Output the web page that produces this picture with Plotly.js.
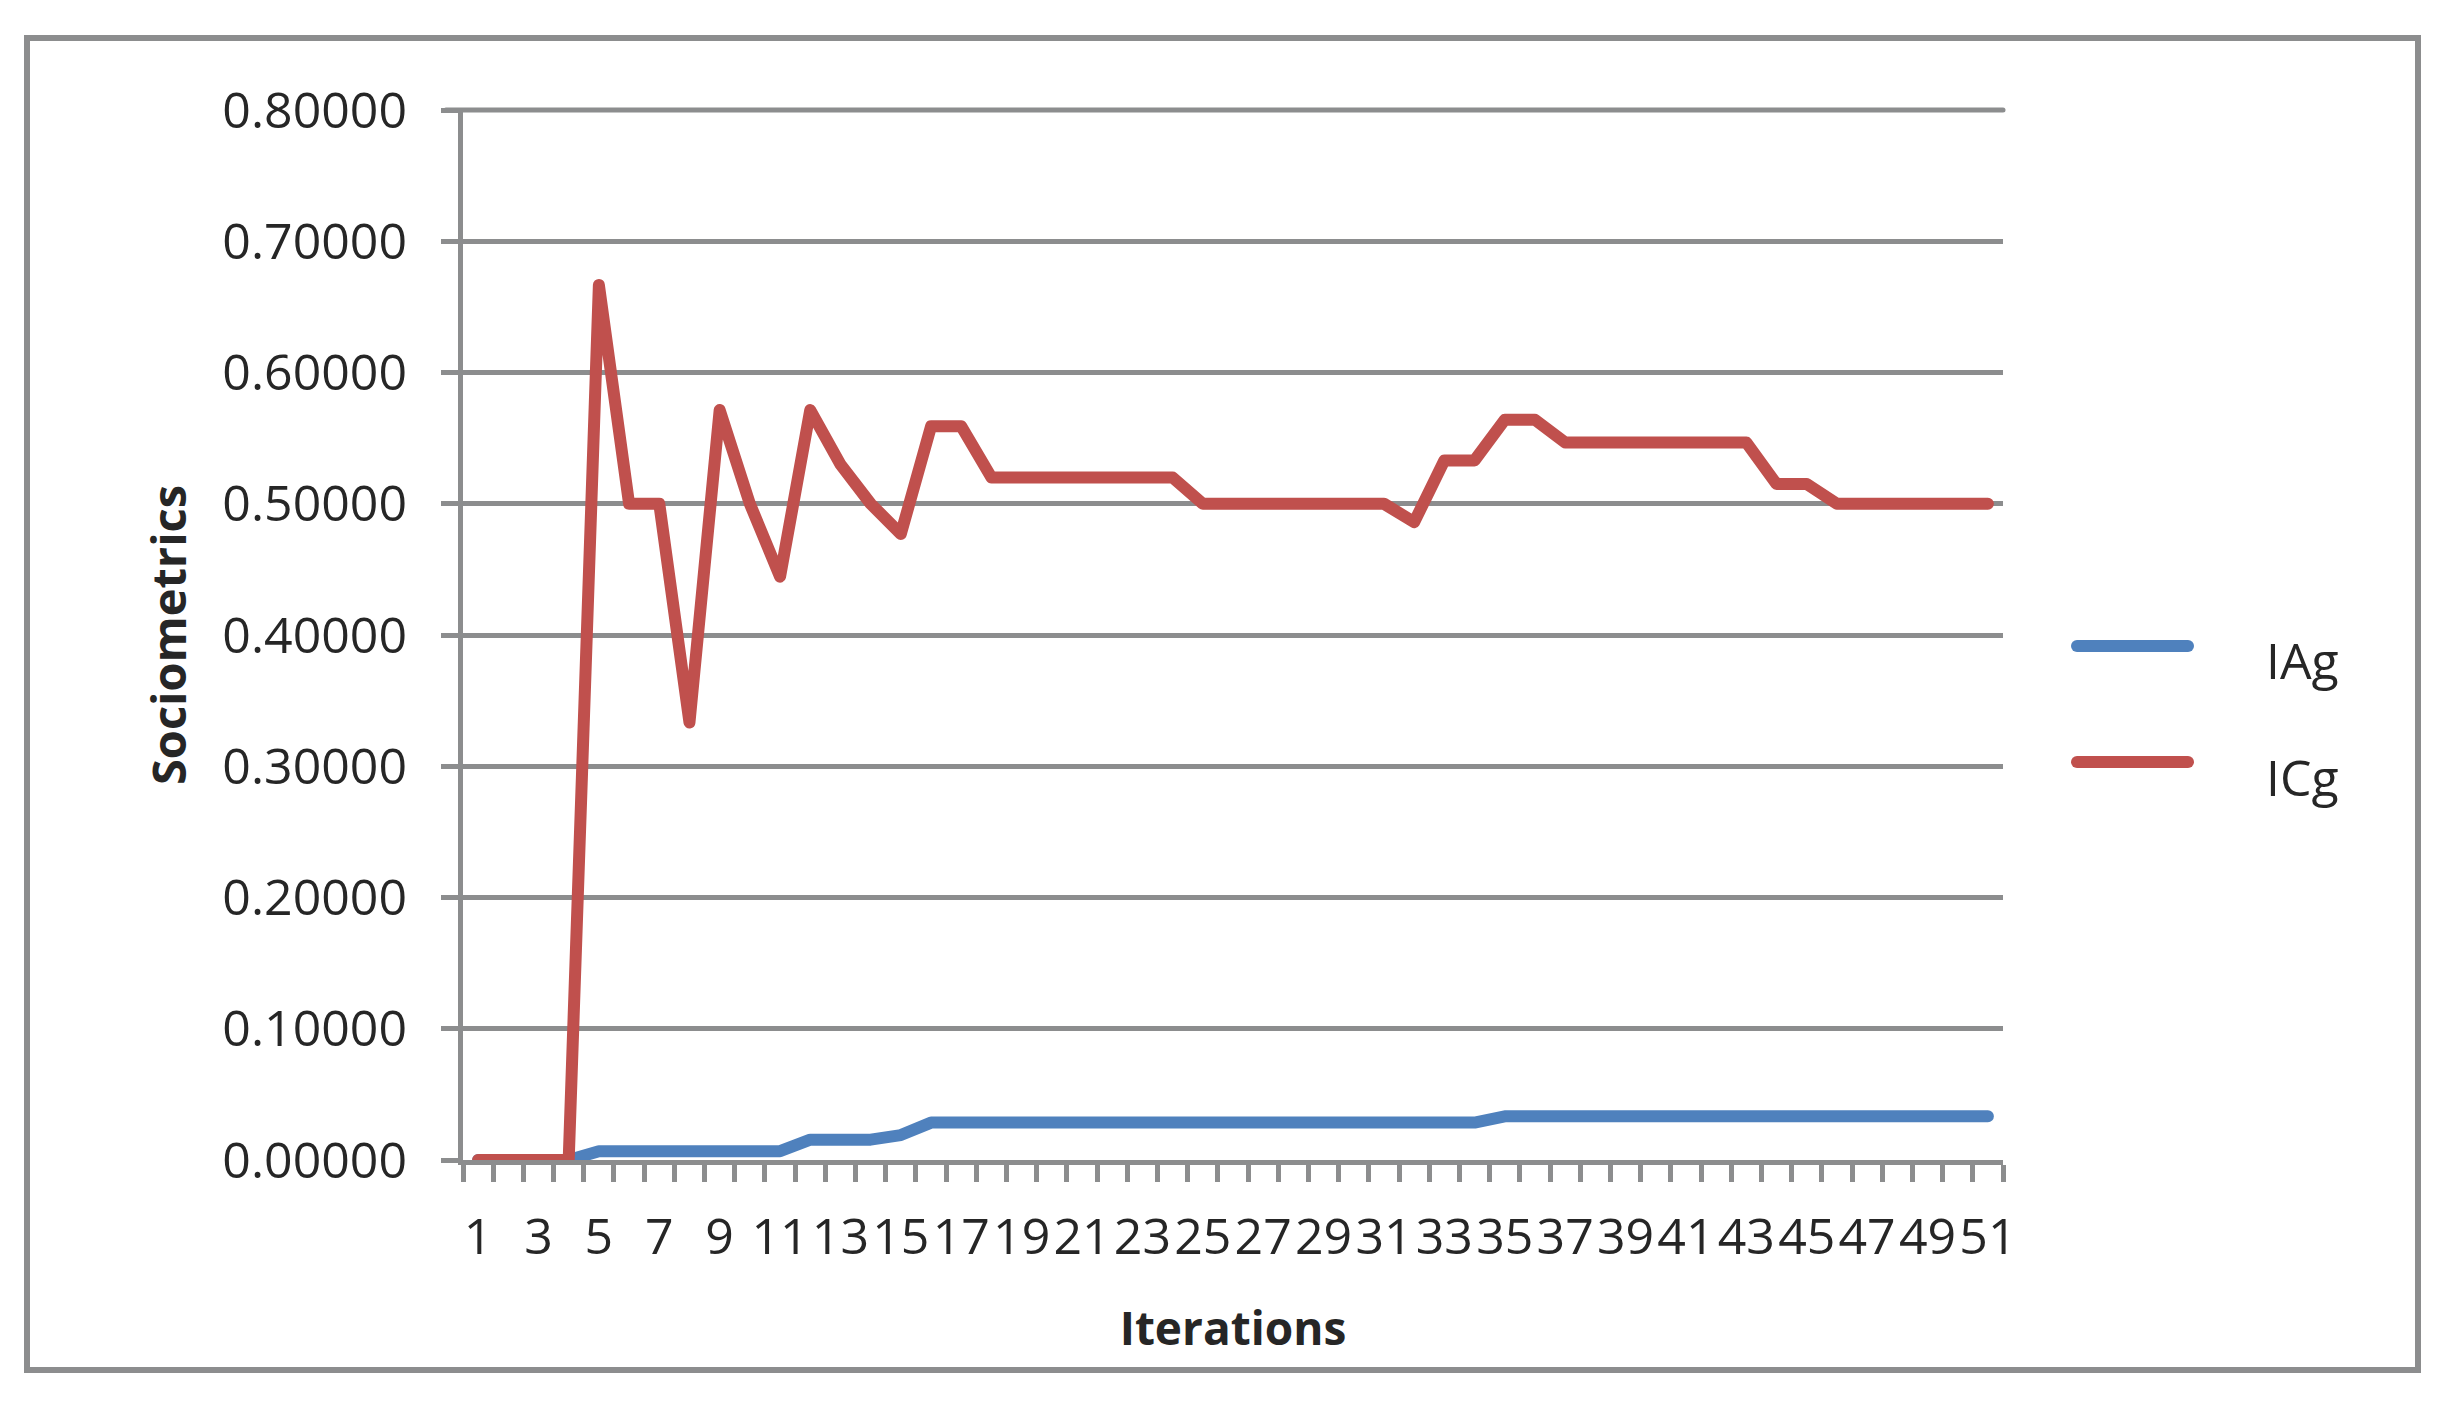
<!DOCTYPE html>
<html>
<head>
<meta charset="utf-8">
<script src="https://cdn.plot.ly/plotly-3.0.1.min.js"></script>
<style>html,body{margin:0;padding:0;background:#ffffff;}</style>
</head>
<body>
<div id="chart" style="width:2455px;height:1415px;"></div>
<script>
// ---------------- data ----------------
const seriesNames = ["IAg", "ICg"];
const iterations = [1,2,3,4,5,6,7,8,9,10,11,12,13,14,15,16,17,18,19,20,21,22,23,24,25,26,27,28,29,30,31,32,33,34,35,36,37,38,39,40,41,42,43,44,45,46,47,48,49,50,51];
const iag = [0,0,0,0,0.0067,0.0067,0.0067,0.0067,0.0067,0.0067,0.0067,0.0155,0.0155,0.0155,0.019,
  0.0285,0.0285,0.0285,0.0285,0.0285,0.0285,0.0285,0.0285,0.0285,0.0285,0.0285,0.0285,0.0285,0.0285,0.0285,0.0285,0.0285,0.0285,0.0285,
  0.0333,0.0333,0.0333,0.0333,0.0333,0.0333,0.0333,0.0333,0.0333,0.0333,0.0333,0.0333,0.0333,0.0333,0.0333,0.0333,0.0333];
const icg = [0,0,0,0,0.6667,0.5,0.5,0.3333,0.5714,0.5,0.4444,0.5714,0.53,0.5,0.477,0.559,0.559,
  0.52,0.52,0.52,0.52,0.52,0.52,0.52,
  0.5,0.5,0.5,0.5,0.5,0.5,0.5,
  0.486,0.533,0.533,0.564,0.564,
  0.5467,0.5467,0.5467,0.5467,0.5467,0.5467,0.5467,
  0.515,0.515,
  0.5,0.5,0.5,0.5,0.5,0.5];
const xTickVals = [1,3,5,7,9,11,13,15,17,19,21,23,25,27,29,31,33,35,37,39,41,43,45,47,49,51];
const xTickText = ["1","3","5","7","9","11","13","15","17","19","21","23","25","27","29","31","33","35","37","39","41","43","45","47","49","51"];
const yTickVals = [0,0.1,0.2,0.3,0.4,0.5,0.6,0.7,0.8];
const xTitle = "Iterations";
const yTitle = "Sociometrics";

// ---------------- layout helpers ----------------
const W = 2455, H = 1415;
const L = 463, R = 2003, T = 110, B = 1160;
const px = x => (x - L) / (R - L);
const py = y => (B - y) / (B - T);
const GRAY = '#8c8d8e';
const TXT = '#262626';
const FONT = '"Open Sans", "DejaVu Sans", sans-serif';
const colors = ['#4F81BD', '#C0504D'];

const traces = [
  {x: iterations, y: iag, name: seriesNames[0], type: 'scatter', mode: 'lines',
   line: {color: colors[0], width: 12}, xaxis: 'x', yaxis: 'y', showlegend: false, hoverinfo: 'skip'},
  {x: iterations, y: icg, name: seriesNames[1], type: 'scatter', mode: 'lines',
   line: {color: colors[1], width: 12}, xaxis: 'x2', yaxis: 'y', showlegend: false, hoverinfo: 'skip'}
];

const legendY = [646, 762];
const legendTextY = [660, 777];
const shapes = [
  {type: 'rect', xref: 'paper', yref: 'paper', x0: px(27), x1: px(2418), y0: py(1370), y1: py(38),
   line: {color: GRAY, width: 6}, fillcolor: 'rgba(0,0,0,0)', layer: 'below'},
  // top gridline at the upper range edge (Plotly omits the gridline there)
  {type: 'line', xref: 'paper', yref: 'paper', x0: px(446), x1: 1, y0: 1, y1: 1,
   line: {color: GRAY, width: 5}, layer: 'below'}
];
const annotations = [];
seriesNames.forEach((n, i) => {
  shapes.push({type: 'line', xref: 'paper', yref: 'paper', x0: px(2077), x1: px(2188),
    y0: py(legendY[i]), y1: py(legendY[i]), line: {color: colors[i], width: 12}});
  annotations.push({xref: 'paper', yref: 'paper', x: px(2264), y: py(legendTextY[i]),
    xanchor: 'left', yanchor: 'middle', showarrow: false, text: n,
    font: {family: FONT, size: 50, color: TXT}});
});

const layout = {
  width: W, height: H,
  margin: {l: L, r: W - R, t: T, b: H - B, pad: 0},
  paper_bgcolor: '#ffffff', plot_bgcolor: '#ffffff',
  font: {family: FONT, color: TXT},
  showlegend: false,
  xaxis: {
    range: [0.5, 51.5], tickmode: 'linear', tick0: 0.5, dtick: 1,
    ticks: 'outside', ticklen: 17, tickwidth: 5, tickcolor: GRAY,
    showline: true, linecolor: GRAY, linewidth: 5,
    showgrid: false, zeroline: false, showticklabels: false, fixedrange: true
  },
  xaxis2: {
    overlaying: 'x', anchor: 'y', side: 'bottom',
    range: [0.5, 51.5], tickmode: 'array', tickvals: xTickVals, ticktext: xTickText,
    ticks: 'outside', ticklen: 17, tickwidth: 1, tickcolor: 'rgba(0,0,0,0)',
    showline: false, showgrid: false, zeroline: false, tickangle: 0,
    tickfont: {family: FONT, size: 50, color: TXT},
    ticklabelstandoff: 16,
    title: {text: xTitle, font: {family: FONT, size: 46, color: TXT, weight: 'bold'}, standoff: 44},
    fixedrange: true
  },
  yaxis: {
    range: [0, 0.8], tickmode: 'array', tickvals: yTickVals, tickformat: '.5f',
    ticks: 'outside', ticklen: 17, tickwidth: 5, tickcolor: GRAY,
    showline: true, linecolor: GRAY, linewidth: 5,
    showgrid: true, gridcolor: GRAY, gridwidth: 5, zeroline: false,
    tickfont: {family: FONT, size: 50, color: TXT},
    ticklabelstandoff: 24,
    title: {text: yTitle, font: {family: FONT, size: 47, color: TXT, weight: 'bold'}, standoff: 22},
    fixedrange: true
  },
  shapes: shapes,
  annotations: annotations
};

Plotly.newPlot('chart', traces, layout, {staticPlot: true, displayModeBar: false}).then(() => {
  document.querySelectorAll('.scatterlayer .js-line').forEach(e => {
    e.style.strokeLinejoin = 'round';
    e.style.strokeLinecap = 'round';
  });
  document.querySelectorAll('.shapelayer path').forEach(e => {
    e.style.strokeLinecap = 'round';
  });
});
</script>
</body>
</html>
